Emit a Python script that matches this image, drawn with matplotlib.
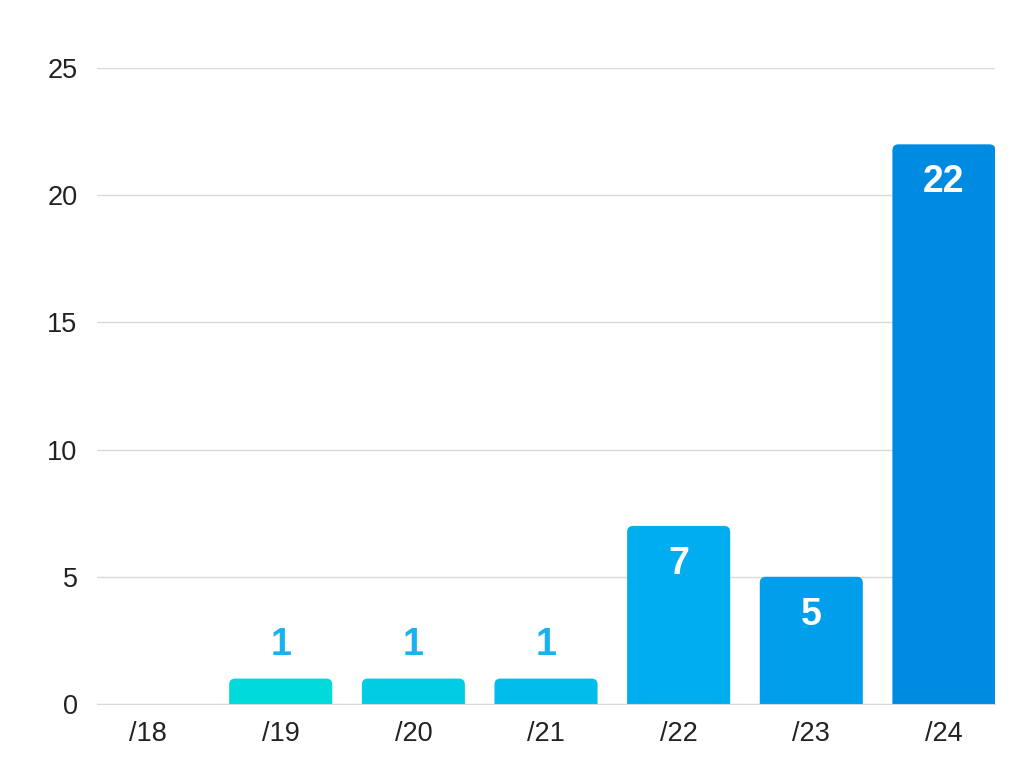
import matplotlib.pyplot as plt
from matplotlib.patches import FancyBboxPatch

plt.rcParams['font.family'] = ['Liberation Sans', 'DejaVu Sans']

# data
categories = ['/18', '/19', '/20', '/21', '/22', '/23', '/24']
values = [0, 1, 1, 1, 7, 5, 22]
bar_colors = ['#00E0DA', '#00DADB', '#00CCE4', '#00BDEB', '#00AEEF', '#009EEB', '#008BE3']

fig = plt.figure(figsize=(10.24, 7.68), dpi=100)
ax = fig.add_axes([97 / 1024, 1 - 704 / 768, (995 - 97) / 1024, (704 - 68) / 768])

x = list(range(len(categories)))
width = 0.777
ax.set_xlim(-0.385, len(categories) - 1 + 0.385)
ax.set_ylim(0, 25)

# bars with rounded tops (bottom corners pushed below the axis and clipped)
px_x = (995 - 97) / (ax.get_xlim()[1] - ax.get_xlim()[0])
px_y = (704 - 68) / 25
r_px = 6
for xi, v, c in zip(x, values, bar_colors):
    if v <= 0:
        continue
    patch = FancyBboxPatch((xi - width / 2, -1), width, v + 1,
                           boxstyle='round,pad=0,rounding_size=%f' % (r_px / px_x),
                           mutation_aspect=px_x / px_y,
                           facecolor=c, edgecolor='none', zorder=3, clip_on=True)
    ax.add_patch(patch)

# value labels
for xi, v in zip(x, values):
    if v <= 0:
        continue
    if v < 3:
        ax.annotate(str(v), (xi, v), xytext=(0, 34), textcoords='offset pixels',
                    ha='center', va='center', fontsize=27, fontweight='bold',
                    color='#1AB2EE', zorder=4)
    else:
        ax.annotate(str(v), (xi, v), xytext=(0, -38), textcoords='offset pixels',
                    ha='center', va='center', fontsize=27, fontweight='bold',
                    color='white', zorder=4)

ax.set_xticks(x)
ax.set_xticklabels(categories)
ax.set_yticks([0, 5, 10, 15, 20, 25])
ax.tick_params(axis='both', length=0, labelsize=19.5, labelcolor='#222222')
ax.tick_params(axis='y', pad=14)
ax.tick_params(axis='x', pad=12)

ax.grid(axis='y', color='#D9D9D9', linewidth=1, zorder=0)
ax.set_axisbelow(True)
for s in ['top', 'right', 'left']:
    ax.spines[s].set_visible(False)
ax.spines['bottom'].set_color('#D9D9D9')
ax.spines['bottom'].set_zorder(5)

fig.savefig('out.png', dpi=100)
